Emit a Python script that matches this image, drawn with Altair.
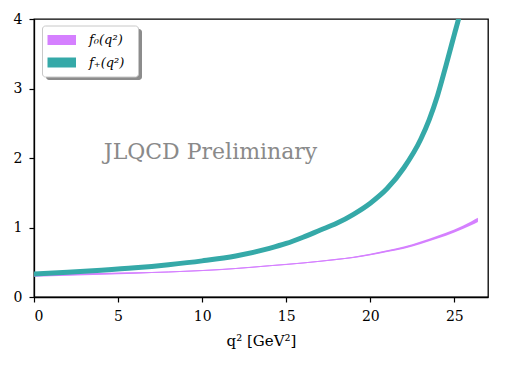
import altair as alt
import pandas as pd

# f_+(q^2) central curve
q_plus = [0, 2, 4, 6, 8, 10, 12, 14, 15, 16, 17, 18, 19, 20, 21, 22, 23, 23.5, 24, 24.5, 25, 25.3, 25.6]
f_plus = [0.33, 0.355, 0.385, 0.42, 0.465, 0.52, 0.59, 0.70, 0.77, 0.86, 0.96, 1.06, 1.19, 1.35, 1.56, 1.86, 2.27, 2.55, 2.90, 3.33, 3.78, 4.05, 4.4]

# f_0(q^2) central curve and band half-width
q_zero = [0, 2, 4, 6, 8, 10, 12, 14, 16, 18, 19, 20, 21, 22, 23, 24, 25, 26, 26.4]
f_zero = [0.31, 0.32, 0.333, 0.345, 0.36, 0.38, 0.41, 0.45, 0.49, 0.54, 0.57, 0.61, 0.66, 0.71, 0.78, 0.86, 0.95, 1.06, 1.11]
f_zero_err = [0.018, 0.015, 0.012, 0.01, 0.008, 0.007, 0.007, 0.007, 0.008, 0.009, 0.01, 0.011, 0.013, 0.015, 0.017, 0.02, 0.023, 0.027, 0.03]

x_ticks = [0, 5, 10, 15, 20, 25]
y_ticks = [0, 1, 2, 3, 4]
labels = ["f\u2080(q\u00b2)", "f\u208a(q\u00b2)"]
colors = ["#d580ff", "#35a9a8"]

FONT = "DejaVu Serif"

df_plus = pd.DataFrame({"q2": q_plus, "f": f_plus})
df_zero = pd.DataFrame({
    "q2": q_zero,
    "f": f_zero,
    "lo": [v - e for v, e in zip(f_zero, f_zero_err)],
    "hi": [v + e for v, e in zip(f_zero, f_zero_err)],
})

xs = alt.Scale(domain=[0, 27.0], nice=False, zero=False)
ys = alt.Scale(domain=[0, 4], nice=False)

x_axis = alt.Axis(values=x_ticks, title="q\u00b2  [GeV\u00b2]", format="d", labelPadding=7, titlePadding=10)
y_axis = alt.Axis(values=y_ticks, title=None, format="d", labelPadding=7)

zero_band = alt.Chart(df_zero).mark_area(color=colors[0], opacity=1, interpolate="monotone").encode(
    x=alt.X("q2:Q", scale=xs, axis=x_axis),
    y=alt.Y("lo:Q", scale=ys, axis=y_axis),
    y2="hi:Q",
)
zero_line = alt.Chart(df_zero).mark_line(color=colors[0], strokeWidth=1.0, interpolate="monotone").encode(
    x=alt.X("q2:Q", scale=xs),
    y=alt.Y("f:Q", scale=ys),
)
plus_line = alt.Chart(df_plus).mark_line(color=colors[1], strokeWidth=5, interpolate="monotone", clip=True).encode(
    x=alt.X("q2:Q", scale=xs),
    y=alt.Y("f:Q", scale=ys),
)

watermark = alt.Chart(pd.DataFrame({"x": [10.5], "y": [2.08], "t": ["JLQCD Preliminary"]})).mark_text(
    font=FONT, fontSize=22, color="#8a8a8a", align="center", baseline="middle"
).encode(x=alt.X("x:Q", scale=xs), y=alt.Y("y:Q", scale=ys), text="t:N")

one = pd.DataFrame({"a": [0]})
shadow = alt.Chart(one).mark_rect(fill="#8c8c8c", cornerRadius=3).encode(
    x=alt.value(12), x2=alt.value(108), y=alt.value(10), y2=alt.value(61)
)
box = alt.Chart(one).mark_rect(fill="white", stroke="#c8c8c8", strokeWidth=1, cornerRadius=3).encode(
    x=alt.value(8.5), x2=alt.value(104.5), y=alt.value(7), y2=alt.value(58)
)
sw1 = alt.Chart(one).mark_rect(fill=colors[0]).encode(
    x=alt.value(13.5), x2=alt.value(42), y=alt.value(16), y2=alt.value(26)
)
sw2 = alt.Chart(one).mark_rect(fill=colors[1]).encode(
    x=alt.value(13.5), x2=alt.value(42), y=alt.value(38.5), y2=alt.value(48.5)
)
lab1 = alt.Chart(one).mark_text(font=FONT, fontSize=13, fontStyle="italic", align="left", baseline="middle", color="black").encode(
    x=alt.value(55), y=alt.value(21), text=alt.value(labels[0])
)
lab2 = alt.Chart(one).mark_text(font=FONT, fontSize=13, fontStyle="italic", align="left", baseline="middle", color="black").encode(
    x=alt.value(55), y=alt.value(43.5), text=alt.value(labels[1])
)

chart = alt.layer(
    zero_band, zero_line, plus_line, watermark, shadow, box, sw1, sw2, lab1, lab2
).properties(
    width=454, height=278,
    autosize=alt.AutoSizeParams(type="none"),
    padding={"left": 26, "top": 11, "right": 11, "bottom": 56},
).configure_view(
    stroke="black", strokeWidth=1.3
).configure_axis(
    grid=False, domainColor="black", domainWidth=1.3, tickColor="black", tickWidth=1.2, tickSize=5,
    labelFont=FONT, labelFontSize=14, labelColor="black",
    titleFont=FONT, titleFontSize=15, titleFontWeight="normal", titleColor="black",
)

chart.save("out.html", embed_options={"renderer": "svg", "actions": False})
